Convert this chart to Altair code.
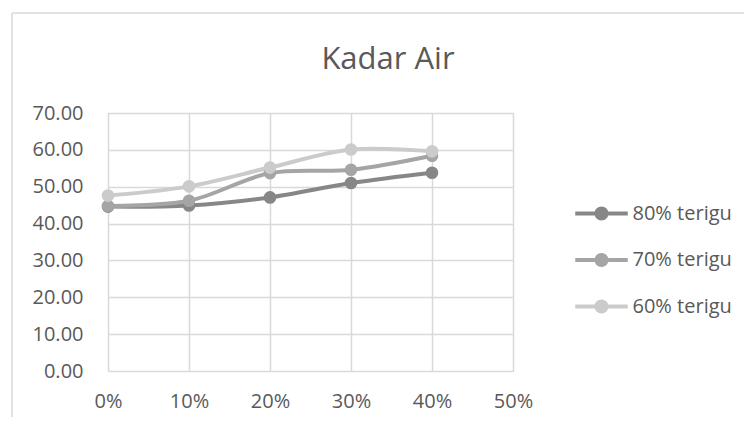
import altair as alt
import pandas as pd

# ---- data ----
levels = [0.0, 0.1, 0.2, 0.3, 0.4]
series = ["80% terigu", "70% terigu", "60% terigu"]
v80 = [44.6, 44.9, 47.1, 51.0, 53.8]
v70 = [44.8, 46.2, 53.7, 54.6, 58.4]
v60 = [47.6, 50.1, 55.2, 60.1, 59.6]
colors = ["#878787", "#a5a5a5", "#cbcbcb"]
x_ticks = [0.0, 0.1, 0.2, 0.3, 0.4, 0.5]
y_ticks = [0, 10, 20, 30, 40, 50, 60, 70]

rows = []
for s, vals in zip(series, [v80, v70, v60]):
    for lv, v in zip(levels, vals):
        rows.append({"level": lv, "kadar": v, "seri": s})
df = pd.DataFrame(rows)

FONT = "Open Sans"
TXT = "#595959"
GRID = "#d9d9d9"

# legend symbol: line with a dot in the middle
sym = ("M-1.5,-0.115 L1.5,-0.115 L1.5,0.115 L-1.5,0.115 Z "
       "M0.4,0 A0.4,0.4 0 1,1 -0.4,0 A0.4,0.4 0 1,1 0.4,0 Z")

x_enc = alt.X("level:Q",
              scale=alt.Scale(domain=[0, 0.5], nice=False),
              axis=alt.Axis(values=x_ticks, format=".0%", title=None,
                            labelFont=FONT, labelFontSize=20, labelColor=TXT,
                            labelPadding=20, ticks=False, domain=False,
                            labelFlush=False, labelOverlap=False,
                            gridColor=GRID, gridWidth=1.5))
y_enc = alt.Y("kadar:Q",
              scale=alt.Scale(domain=[0, 70], nice=False),
              axis=alt.Axis(values=y_ticks, format=".2f", title=None,
                            labelFont=FONT, labelFontSize=20, labelColor=TXT,
                            labelPadding=25, ticks=False, domain=False,
                            labelFlush=False, labelOverlap=False,
                            gridColor=GRID, gridWidth=1.5))
color_scale = alt.Scale(domain=series, range=colors)
legend = alt.Legend(title=None, orient="none",
                    legendX=476, legendY=83,
                    symbolType=sym, symbolSize=1225,
                    symbolStrokeWidth=0, symbolOpacity=1,
                    labelFont=FONT, labelFontSize=20,
                    labelColor=TXT, labelOffset=13.5,
                    rowPadding=18.5, padding=0)
color_enc = alt.Color("seri:N", scale=color_scale, sort=series, legend=legend)

base = alt.Chart(df).encode(x=x_enc, y=y_enc, color=color_enc)

lines = base.mark_line(strokeWidth=4, interpolate="catmull-rom")
points = base.mark_point(filled=True, size=160, opacity=1, shape="circle")

frame_df = pd.DataFrame({"k": [0]})
border_v = alt.Chart(frame_df).mark_rule(color=GRID, strokeWidth=1.5).encode(
    x=alt.value(-96), y=alt.value(-100), y2=alt.value(400))
border_h = alt.Chart(frame_df).mark_rule(color=GRID, strokeWidth=1.5).encode(
    x=alt.value(-96), x2=alt.value(700), y=alt.value(-100))

chart = alt.layer(border_v, border_h, lines, points).properties(
    width=405, height=258,
    title=alt.TitleParams("Kadar Air", font=FONT, fontSize=31, fontWeight="normal",
                          color=TXT, anchor="middle", frame="group", dx=77.5,
                          offset=-64),
    autosize=alt.AutoSizeParams(type="none"),
    padding={"left": 100, "top": 105, "right": 231, "bottom": 46},
).configure_view(stroke=None).configure(background="white")

chart.save("out.html", embed_options={"renderer": "svg", "actions": False})
